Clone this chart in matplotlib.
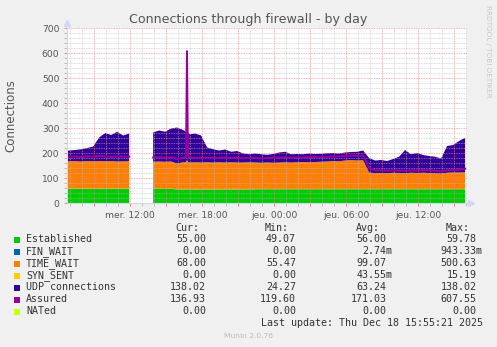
import numpy as np
import matplotlib
matplotlib.use("Agg")
import matplotlib.pyplot as plt
from matplotlib.patches import Rectangle
from matplotlib.ticker import MultipleLocator

nan = np.nan
# sample times, hours since Wednesday 00:00
hours = [6.4, 6.9, 7.4, 7.9, 8.4, 8.9, 9.4, 9.9, 10.4, 10.9, 11.4, 11.9,
         12.4, 12.9, 13.4,
         13.9, 14.4, 14.9, 15.4, 15.9, 16.4, 16.64, 16.72, 16.8, 16.9, 17.4, 17.9,
         18.4, 18.9, 19.4, 19.9, 20.4, 20.9, 21.4, 21.9,
         22.4, 22.9, 23.4, 23.9, 24.4, 24.9, 25.4, 25.9, 26.4, 26.9, 27.4, 27.9,
         28.4, 28.9, 29.4, 29.9, 30.4, 30.9, 31.4, 31.9,
         32.4, 32.9, 33.4, 33.9, 34.4, 34.9, 35.4, 35.9, 36.4, 36.9, 37.4, 37.9,
         38.4, 38.9, 39.4, 39.9]

established = [57, 57, 57, 57, 57, 57, 57, 57, 57, 57, 57, 57,
               nan, nan, nan,
               57, 57, 57, 57, 54, 54, 54, 54, 54, 54, 54, 54,
               54, 54, 54, 54, 54, 54, 54, 54,
               55, 55, 55, 55, 55, 55, 55, 55, 55, 55, 55, 55,
               55, 55, 55, 55, 55, 55, 55, 55,
               55, 55, 55, 55, 55, 55, 55, 55, 55, 55, 55, 55,
               55, 55, 55, 55]
fin_wait = [0] * len(hours)
time_wait = [109, 110, 111, 109, 111, 110, 111, 110, 111, 109, 110, 110,
             nan, nan, nan,
             108, 109, 108, 109, 104, 109, 110, 118, 111, 108, 109, 108,
             109, 108, 109, 108, 109, 108, 108, 109,
             107, 106, 107, 106, 107, 108, 107, 108, 109, 108, 109, 110,
             111, 113, 112, 115, 117, 115, 116, 67,
             64, 65, 64, 66, 65, 64, 66, 65, 66, 65, 64, 63,
             66, 67, 67, 68]
syn_sent = [0] * len(hours)
udp = [42, 43, 44, 49, 52, 59, 94, 113, 104, 119, 103, 111,
       nan, nan, nan,
       117, 124, 120, 132, 144, 129, 121, 118, 120, 113, 115, 108,
       59, 53, 47, 52, 42, 46, 36, 32,
       36, 34, 31, 35, 40, 42, 33, 33, 31, 35, 32, 32,
       33, 32, 31, 32, 32, 35, 39, 58,
       51, 52, 49, 55, 65, 93, 74, 80, 71, 68, 66, 60,
       107, 110, 126, 138]
assured = [184, 185, 186, 184, 187, 185, 188, 186, 184, 187, 185, 186,
           nan, nan, nan,
           182, 183, 181, 183, 176, 180, 185, 607, 190, 182, 180, 181,
           180, 181, 180, 182, 180, 181, 179, 180,
           180, 179, 180, 181, 182, 183, 181, 182, 182, 183, 184, 183,
           185, 186, 186, 188, 190, 189, 190, 140,
           130, 131, 129, 131, 130, 129, 131, 130, 132, 131, 128, 127,
           131, 132, 133, 137]

names = ["Established", "FIN_WAIT", "TIME_WAIT", "SYN_SENT",
         "UDP connections", "Assured", "NATed"]
colors = ["#00CC00", "#0066B3", "#FF8000", "#FFCC00", "#330099", "#990099", "#CCFF00"]
cur = ["55.00", "0.00", "68.00", "0.00", "138.02", "136.93", "0.00"]
mins = ["49.07", "0.00", "55.47", "0.00", "24.27", "119.60", "0.00"]
avgs = ["56.00", "2.74m", "99.07", "43.55m", "63.24", "171.03", "0.00"]
maxs = ["59.78", "943.33m", "500.63", "15.19", "138.02", "607.55", "0.00"]

tick_hours = [12, 18, 24, 30, 36]
tick_labels = ["mer. 12:00", "mer. 18:00", "jeu. 00:00", "jeu. 06:00", "jeu. 12:00"]

W, H = 497, 347
fig = plt.figure(figsize=(W / 100, H / 100), dpi=100, facecolor="#F0F0F0")
ax = fig.add_axes([67 / W, 1 - 203 / H, 400 / W, 175 / H])
ax.set_facecolor("white")

t = np.array(hours, dtype=float)
stack = [np.array(s, dtype=float) for s in (established, fin_wait, time_wait, syn_sent, udp)]
stack[1][np.isnan(stack[0])] = nan
stack[3][np.isnan(stack[0])] = nan
base = np.zeros_like(t)
for s, c in zip(stack, colors[:5]):
    top = base + s
    ax.fill_between(t, base, top, color=c, linewidth=0, zorder=2)
    base = top
ax.plot(t, np.array(assured, dtype=float), color=colors[5], lw=1.4, zorder=3)

ax.set_xlim(6.72, 40.06)
ax.set_ylim(0, 700)

ax.xaxis.set_minor_locator(MultipleLocator(1))
ax.yaxis.set_major_locator(MultipleLocator(100))
ax.yaxis.set_minor_locator(MultipleLocator(20))
major_x = np.arange(9, 40, 3)
ax.set_xticks(major_x)
ax.set_xticklabels([tick_labels[tick_hours.index(h)] if h in tick_hours else "" for h in major_x])

ax.grid(which="minor", color="#BBBBBB", linestyle=(0, (1, 1)), linewidth=0.6, alpha=0.7, zorder=4)
ax.grid(which="major", color="#F08080", linestyle=(0, (1, 1)), linewidth=0.6, alpha=0.8, zorder=4)
ax.set_axisbelow(False)

for sp in ("top", "right"):
    ax.spines[sp].set_visible(False)
for sp in ("left", "bottom"):
    ax.spines[sp].set_color("#CFD6F8")
    ax.spines[sp].set_linewidth(0.8)
    ax.spines[sp].set_zorder(5)

ax.tick_params(which="major", length=2, width=0.7, color="#F08080", labelsize=6.6,
               labelcolor="#555555", pad=3.5)
ax.tick_params(which="minor", length=2, width=0.7, color="#BBBBBB")

ax.plot([0], [1.03], marker="^", ms=4, color="#CFD6F8", transform=ax.transAxes, clip_on=False)
ax.plot([1.01], [0], marker=">", ms=4, color="#CFD6F8", transform=ax.transAxes, clip_on=False)


def fx(x):
    return x / W


def fy(y):
    return 1 - y / H


fig.text(fx(248.5), fy(19), "Connections through firewall - by day", ha="center", va="center",
         fontsize=9.1, color="#555555")
fig.text(fx(11), fy(115.5), "Connections", rotation=90, ha="center", va="center",
         fontsize=8.5, color="#555555")
fig.text(fx(488), fy(5), "RRDTOOL / TOBI OETIKER", rotation=270, ha="center", va="top",
         fontsize=5.2, color="#C8C8C8")

mono = "DejaVu Sans Mono"
lfs = 7.2
lcol = "#333333"
cw = 6.0
col_right = [206, 296, 386.7, 476.7]
headers = ["Cur:", "Min:", "Avg:", "Max:"]
for hdr, xr in zip(headers, col_right):
    fig.text(fx(xr - 7), fy(228.3), hdr, ha="right", va="center", fontsize=lfs,
             family=mono, color=lcol)

for i, name in enumerate(names):
    y = 239.5 + 12 * i
    fig.patches.append(Rectangle((fx(14), fy(y + 3)), 6 / W, 6 / H, transform=fig.transFigure,
                                 facecolor=colors[i], edgecolor="none"))
    fig.text(fx(26), fy(y), name, ha="left", va="center", fontsize=lfs, family=mono, color=lcol)
    for vals, xr in zip((cur, mins, avgs, maxs), col_right):
        v = vals[i]
        xx = xr + cw if v.endswith("m") else xr
        fig.text(fx(xx), fy(y), v, ha="right", va="center", fontsize=lfs, family=mono, color=lcol)

fig.text(fx(482.7), fy(323.3), "Last update: Thu Dec 18 15:55:21 2025", ha="right", va="center",
         fontsize=lfs, family=mono, color=lcol)
fig.text(fx(248), fy(336), "Munin 2.0.76", ha="center", va="center", fontsize=5.4, color="#BBBBBB")

fig.savefig("out.png", dpi=100, facecolor=fig.get_facecolor())
